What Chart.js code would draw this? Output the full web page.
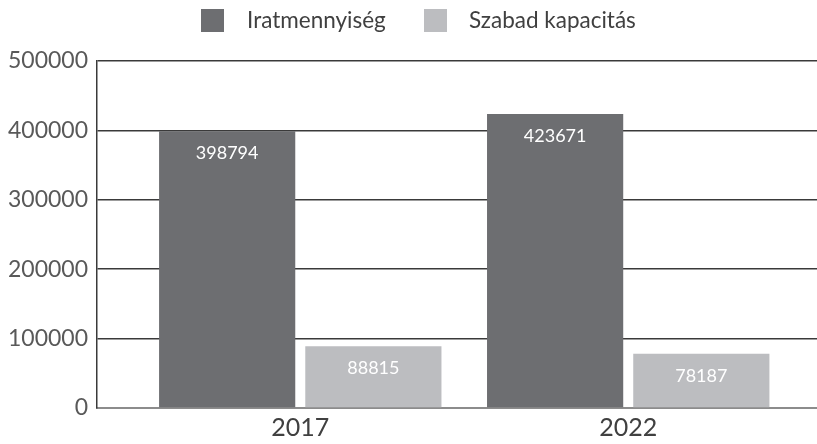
<!DOCTYPE html>
<html><head><meta charset="utf-8">
<script src="https://cdn.jsdelivr.net/npm/chart.js@4"></script>
<style>
html,body{margin:0;padding:0;background:#fff;}
#wrap{position:relative;width:817px;height:444px;}
#legend{position:absolute;left:0;top:0;width:817px;height:44px;font-family:Lato,"Open Sans",sans-serif;font-size:22.5px;color:#404040;}
.sw{position:absolute;top:9px;width:23px;height:23px;}
.lt{position:absolute;top:7px;line-height:26px;white-space:nowrap;}
canvas{position:absolute;left:0;top:0;}
</style></head>
<body>
<div id="wrap">
<canvas id="c" width="817" height="444"></canvas>
<div id="legend"></div>
</div>
<script>
const categories = ['2017', '2022'];
const seriesNames = ['Iratmennyiség', 'Szabad kapacitás'];
const iratmennyiseg = [398794, 423671];
const szabadKapacitas = [88815, 78187];
const yTicks = [0, 100000, 200000, 300000, 400000, 500000];
const colors = ['#6d6e71', '#bcbdc0'];

// HTML legend
const lg = document.getElementById('legend');
const legendPos = [[201, 247], [424, 469]];
seriesNames.forEach((n, i) => {
  const s = document.createElement('div'); s.className = 'sw';
  s.style.left = legendPos[i][0] + 'px'; s.style.background = colors[i]; lg.appendChild(s);
  const t = document.createElement('div'); t.className = 'lt';
  t.style.left = legendPos[i][1] + 'px'; t.textContent = n; lg.appendChild(t);
});

const labelPlugin = {
  id: 'barLabels',
  afterDatasetsDraw(chart) {
    const ctx = chart.ctx;
    ctx.save();
    ctx.fillStyle = '#ffffff';
    ctx.font = '18px Lato, "Open Sans", sans-serif';
    ctx.textAlign = 'center';
    ctx.textBaseline = 'middle';
    chart.data.datasets.forEach((ds, di) => {
      const meta = chart.getDatasetMeta(di);
      meta.data.forEach((bar, i) => {
        ctx.fillText(String(ds.data[i].y), bar.x, bar.y + 22);
      });
    });
    ctx.restore();
  }
};

new Chart(document.getElementById('c'), {
  type: 'bar',
  data: {
    datasets: [
      { label: seriesNames[0], data: iratmennyiseg.map((v, i) => ({ x: i, y: v })), backgroundColor: colors[0], categoryPercentage: 0.8916, barPercentage: 0.9315 },
      { label: seriesNames[1], data: szabadKapacitas.map((v, i) => ({ x: i, y: v })), backgroundColor: colors[1], categoryPercentage: 0.8916, barPercentage: 0.9315 }
    ]
  },
  options: {
    responsive: false,
    animation: false,
    layout: { padding: { top: 61, right: 0, left: 0, bottom: 0 } },
    plugins: { legend: { display: false }, tooltip: { enabled: false } },
    scales: {
      x: {
        type: 'linear',
        offset: false,
        min: -0.6198,
        max: 1.5756,
        afterBuildTicks(scale) { scale.ticks = categories.map((c, i) => ({ value: i })); },
        afterFit(scale) { scale.height = 36; },
        grid: { display: false, drawTicks: false, offset: false },
        border: { color: '#8c8c8c', width: 2 },
        ticks: {
          padding: 5,
          color: '#404040',
          font: { family: 'Lato, "Open Sans", sans-serif', size: 25 },
          callback: (v) => categories[v] ?? ''
        }
      },
      y: {
        min: 0,
        max: 500000,
        afterBuildTicks(scale) { scale.ticks = yTicks.map(v => ({ value: v })); },
        afterFit(scale) { scale.width = 97; },
        grid: {
          drawTicks: false,
          color: (c) => c.tick && c.tick.value === 0 ? 'rgba(0,0,0,0)' : '#3a3a3a',
          lineWidth: 1.5
        },
        border: { color: '#3a3a3a', width: 1.5 },
        ticks: {
          padding: 9,
          color: '#595959',
          font: { family: 'Lato, "Open Sans", sans-serif', size: 23 },
          callback: (v) => String(v)
        }
      }
    }
  },
  plugins: [labelPlugin]
});
</script>
</body></html>
